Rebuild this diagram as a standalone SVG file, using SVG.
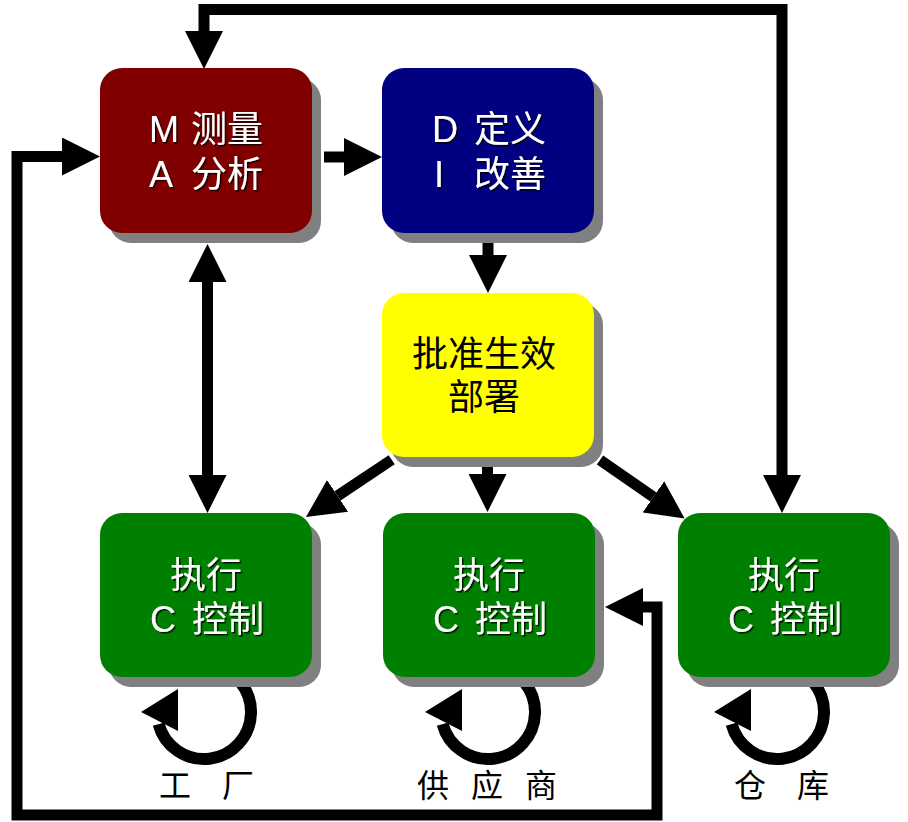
<svg xmlns="http://www.w3.org/2000/svg" xmlns:xlink="http://www.w3.org/1999/xlink" width="908" height="822" viewBox="0 0 908 822">
<style>
.box{stroke:none}
.sh{fill:#808080}
.lbl{font-family:"Liberation Sans","Noto Sans CJK SC",sans-serif;font-size:36px}
.w{fill:#ffffff;filter:url(#ts)}
.k{fill:#000000}
.cap{font-family:"Noto Sans CJK SC",sans-serif;font-size:32px;fill:#000}
.con{fill:none;stroke:#000;stroke-width:11;stroke-linejoin:miter}
</style>
<defs>
<filter id="ts" x="-10%" y="-10%" width="130%" height="130%">
<feDropShadow dx="1.5" dy="1.5" stdDeviation="0.4" flood-color="#000" flood-opacity="0.8"/>
</filter>
<marker id="ah" viewBox="0 0 38 38" refX="0" refY="19" markerWidth="38" markerHeight="38" markerUnits="userSpaceOnUse" orient="auto-start-reverse">
<path d="M0,0 L38,19 L0,38 Z" fill="#000"/>
</marker>
<g id="loop">
<path d="M8.16,-46.29 A47,47 0 1 1 -45.40,12.16" fill="none" stroke="#000" stroke-width="12"/>
<polygon points="-63,0 -26,-23 -26,19" fill="#000"/>
</g>
</defs>
<rect width="908" height="822" fill="#fff"/>

<g id="connectors">
<path class="con" d="M204,31 V9.5 H782 V475" marker-start="url(#ah)" marker-end="url(#ah)"/>
<path class="con" d="M643,607 H657 V815 H17 V156.5 H62" marker-start="url(#ah)" marker-end="url(#ah)"/>
<path class="con" d="M324,157 H344" marker-end="url(#ah)"/>
<path class="con" d="M488,243 V255" marker-end="url(#ah)"/>
<path class="con" d="M207.5,282 V475" marker-start="url(#ah)" marker-end="url(#ah)"/>
<path class="con" d="M487.5,467 V474" marker-end="url(#ah)"/>
<path class="con" d="M600,460 L653.4,496.9" marker-end="url(#ah)"/>
<path class="con" d="M391.7,459.8 L337.6,495.9" marker-end="url(#ah)"/>
<use xlink:href="#loop" href="#loop" x="204" y="712"/>
<use xlink:href="#loop" href="#loop" x="488" y="712"/>
<use xlink:href="#loop" href="#loop" x="777" y="712"/>
</g>

<g id="node-ma">
<rect class="sh" x="109" y="78" width="212" height="165" rx="22"/>
<rect class="box" x="100" y="68" width="212" height="165" rx="22" fill="#800000"/>
<text class="lbl w" x="149" y="142">M</text>
<text class="lbl w" x="191" y="142">测量</text>
<text class="lbl w" x="149" y="187">A</text>
<text class="lbl w" x="191" y="187">分析</text>
</g>

<g id="node-di">
<rect class="sh" x="391" y="78" width="212" height="165" rx="22"/>
<rect class="box" x="382" y="68" width="212" height="165" rx="22" fill="#000080"/>
<text class="lbl w" x="432" y="142">D</text>
<text class="lbl w" x="474" y="142">定义</text>
<text class="lbl w" x="434" y="187">I</text>
<text class="lbl w" x="474" y="187">改善</text>
</g>

<g id="node-approve">
<rect class="sh" x="391" y="303" width="212" height="164" rx="22"/>
<rect class="box" x="382" y="293" width="212" height="164" rx="22" fill="#ffff00"/>
<text class="lbl k" x="484" y="367" text-anchor="middle">批准生效</text>
<text class="lbl k" x="484" y="410" text-anchor="middle">部署</text>
</g>

<g id="node-factory">
<rect class="sh" x="109" y="523" width="212" height="164" rx="22"/>
<rect class="box" x="100" y="513" width="212" height="164" rx="22" fill="#008000"/>
<text class="lbl w" x="206" y="588" text-anchor="middle">执行</text>
<text class="lbl w" x="150" y="632">C</text>
<text class="lbl w" x="192" y="632">控制</text>
</g>

<g id="node-supplier">
<rect class="sh" x="392" y="523" width="212" height="164" rx="22"/>
<rect class="box" x="383" y="513" width="212" height="164" rx="22" fill="#008000"/>
<text class="lbl w" x="489" y="588" text-anchor="middle">执行</text>
<text class="lbl w" x="433" y="632">C</text>
<text class="lbl w" x="475" y="632">控制</text>
</g>

<g id="node-warehouse">
<rect class="sh" x="687" y="523" width="212" height="164" rx="22"/>
<rect class="box" x="678" y="513" width="212" height="164" rx="22" fill="#008000"/>
<text class="lbl w" x="784" y="588" text-anchor="middle">执行</text>
<text class="lbl w" x="728" y="632">C</text>
<text class="lbl w" x="770" y="632">控制</text>
</g>

<g id="captions">
<text class="cap" x="175" y="797" text-anchor="middle">工</text>
<text class="cap" x="238" y="797" text-anchor="middle">厂</text>
<text class="cap" x="433" y="797" text-anchor="middle">供</text>
<text class="cap" x="487" y="797" text-anchor="middle">应</text>
<text class="cap" x="541" y="797" text-anchor="middle">商</text>
<text class="cap" x="750" y="797" text-anchor="middle">仓</text>
<text class="cap" x="813" y="797" text-anchor="middle">库</text>
</g>
</svg>
